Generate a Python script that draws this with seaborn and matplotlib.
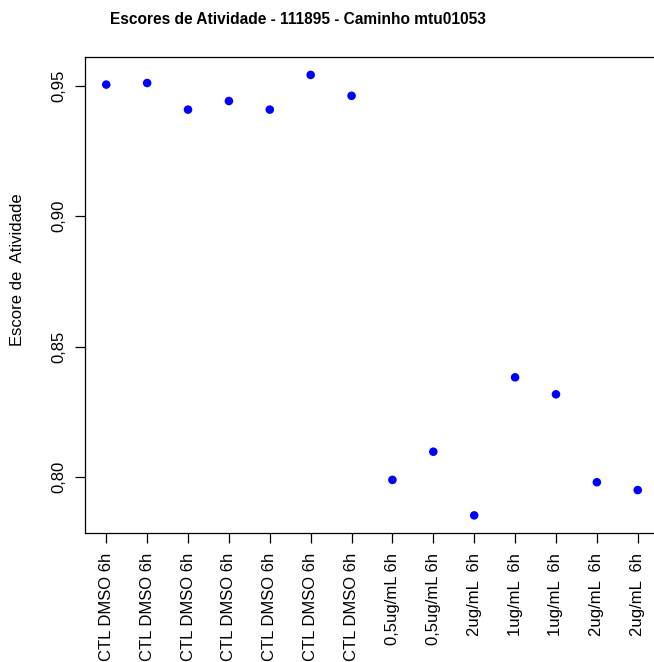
import matplotlib
matplotlib.use("Agg")
import matplotlib.pyplot as plt
import numpy as np
import pandas as pd
import seaborn as sns

# Sample labels along the x axis (repeated conditions, one point per sample)
sample_labels = [
    "CTL DMSO 6h", "CTL DMSO 6h", "CTL DMSO 6h", "CTL DMSO 6h",
    "CTL DMSO 6h", "CTL DMSO 6h", "CTL DMSO 6h",
    "0,5ug/mL 6h", "0,5ug/mL 6h", "2ug/mL  6h", "1ug/mL  6h",
    "1ug/mL  6h", "2ug/mL  6h", "2ug/mL  6h",
]
# Activity score of each sample
activity_scores = [
    0.9504, 0.9510, 0.9408, 0.9441, 0.9408, 0.9541, 0.9461,
    0.7989, 0.8097, 0.7853, 0.8382, 0.8317, 0.7980, 0.7950,
]
# Y axis ticks and their comma-decimal labels
y_ticks = [0.80, 0.85, 0.90, 0.95]
y_tick_labels = ["0,80", "0,85", "0,90", "0,95"]

sns.set_theme(style="white")
plt.rcParams["font.family"] = ["Liberation Sans", "DejaVu Sans"]
plt.rcParams["axes.edgecolor"] = "black"
plt.rcParams["axes.linewidth"] = 0.9

df = pd.DataFrame({
    "pos": np.arange(1, len(activity_scores) + 1),
    "score": activity_scores,
})

W, H = 654, 662
fig = plt.figure(figsize=(W / 100, H / 100), dpi=100)
ax = fig.add_axes([85 / W, (H - 533) / H, 574 / W, 475.7 / H])

sns.scatterplot(data=df, x="pos", y="score", ax=ax, color="#0000ff",
                s=38, edgecolor="none", legend=False)

# R-style 4% padding around the data range
lo, hi = min(activity_scores), max(activity_scores)
pad = (hi - lo) * 0.04
ax.set_ylim(lo - pad, hi + pad)
n = len(activity_scores)
ax.set_xlim(1 - (n - 1) * 0.04, n + (n - 1) * 0.04)

ax.set_xticks(df["pos"])
ax.set_xticklabels(sample_labels, rotation=90, fontsize=12)
ax.set_yticks(y_ticks)
ax.set_yticklabels(y_tick_labels, rotation=90, va="center", fontsize=12)

ax.tick_params(axis="both", direction="out", length=7.2, width=0.9,
               color="black", labelcolor="black", bottom=True, left=True)
ax.tick_params(axis="x", pad=7)
ax.tick_params(axis="y", pad=6.5)

ax.set_xlabel("")
ax.set_ylabel("Escore de  Atividade", fontsize=12, color="black")
ax.yaxis.label.set_verticalalignment("center")
ax.yaxis.set_label_coords((18 - 85) / 574, (533 - 270) / 475.7)

for side in ["left", "bottom", "top", "right"]:
    ax.spines[side].set_visible(True)
    ax.spines[side].set_color("black")

fig.text(298 / W, 1 - 19 / H, "Escores de Atividade - 111895 - Caminho mtu01053",
         ha="center", va="center", fontsize=11.2, fontweight="bold", color="black")

fig.savefig("out.png", dpi=100, facecolor="white")
